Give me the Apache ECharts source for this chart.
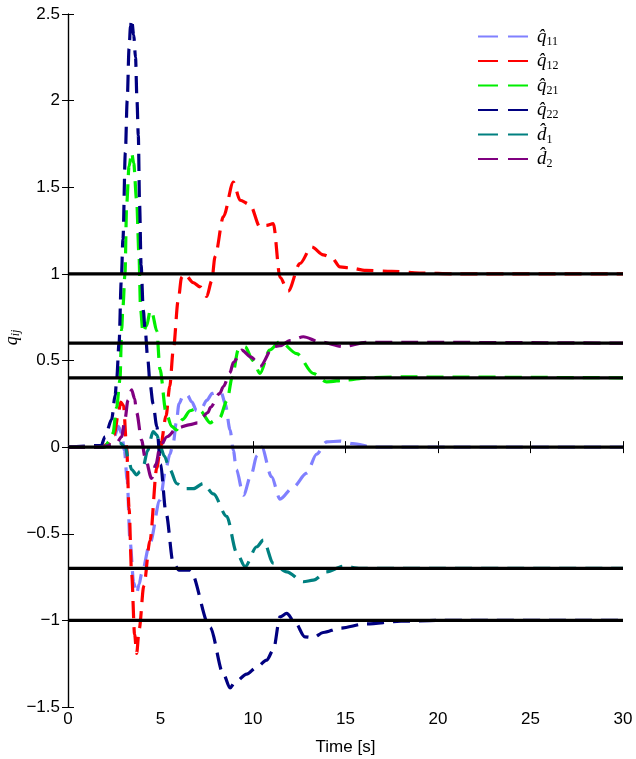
<!DOCTYPE html>
<html><head><meta charset="utf-8">
<script src="https://cdn.jsdelivr.net/npm/echarts@6/dist/echarts.min.js"></script>
<style>html,body{margin:0;padding:0;background:#fff}#c{width:636px;height:759px}</style>
</head><body><div id="c"></div>
<script>
// ---- data ----
const tQ11=[0,1.8,2.2,2.5,2.72,2.9,3.05,3.2,3.35,3.55,3.71,3.85,3.98,4.43,4.97,5.3,5.51,5.7,5.85,6.0,6.23,6.45,6.7,6.95,7.2,7.5,7.8,8.1,8.3,8.5,8.76,8.94,9.1,9.48,9.93,10.2,10.47,11.0,11.46,12.18,12.9,13.44,13.98,14.7,15.4,16.5,30];
const vQ11=[0,0,0.02,0.06,0.12,0.08,-0.02,-0.19,-0.54,-0.78,-0.845,-0.79,-0.73,-0.556,-0.306,-0.12,-0.04,0.03,0.14,0.25,0.30,0.30,0.26,0.21,0.22,0.27,0.31,0.32,0.31,0.25,0.1,-0.02,-0.13,-0.277,-0.15,-0.05,0.0,-0.17,-0.30,-0.23,-0.15,-0.04,0.03,0.035,0.02,0.0,0.0];
const tQ12=[0,1.8,2.2,2.5,2.7,2.85,3.0,3.17,3.3,3.44,3.6,3.71,3.85,4.1,4.43,4.8,5.0,5.3,5.5,5.69,5.96,6.14,6.3,6.77,7.14,7.5,7.77,7.95,8.4,8.94,9.3,9.84,10.38,10.74,11.1,11.46,11.9,12.54,13.17,13.8,14.25,14.7,15.2,16.1,17.5,19,21,30];
const vQ12=[0,0,0.02,0.07,0.18,0.26,0.24,0.0,-0.35,-0.73,-1.08,-1.19,-1.05,-0.8,-0.54,-0.12,0.0,0.18,0.35,0.56,0.85,0.98,1.0,0.95,0.925,0.87,0.96,1.1,1.33,1.53,1.425,1.40,1.27,1.28,1.29,0.98,0.90,1.06,1.156,1.11,1.095,1.04,1.035,1.02,1.015,1.005,1.0,1.0];
const tQ21=[0,1.8,2.0,2.2,2.43,2.63,2.81,2.9,2.97,3.08,3.17,3.3,3.44,3.55,3.71,3.84,3.92,4.05,4.25,4.45,4.55,4.8,4.97,5.3,5.6,5.87,6.2,6.6,6.9,7.14,7.7,7.86,8.2,8.6,8.87,9.2,9.57,10.0,10.38,10.9,11.46,12.36,13.26,13.98,15.06,16.1,18,30];
const vQ21=[0,0,0.0,0.03,0.08,0.23,0.39,0.68,0.81,1.0,1.4,1.62,1.70,1.64,1.425,1.1,0.8,0.66,0.7,0.79,0.77,0.67,0.45,0.2,0.12,0.1,0.16,0.21,0.22,0.21,0.14,0.15,0.17,0.27,0.40,0.56,0.58,0.50,0.425,0.56,0.61,0.54,0.425,0.377,0.387,0.40,0.405,0.4];
const tQ22=[0,1.8,2.0,2.36,2.55,2.63,2.76,2.88,2.97,3.1,3.2,3.3,3.38,3.44,3.55,3.65,3.73,3.8,3.87,3.95,4.07,4.16,4.32,4.43,4.6,4.8,5.0,5.3,5.69,6.0,6.6,7.68,8.4,8.76,9.0,9.66,10.2,10.74,11.1,11.46,11.82,12.27,12.8,13.25,13.8,14.7,16.1,18,20,30];
const vQ22=[0,0.01,0.06,0.16,0.3,0.39,0.6,0.96,1.2,1.7,2.0,2.3,2.43,2.47,2.38,2.25,2.0,1.8,1.4,1.05,0.79,0.69,0.5,0.37,0.25,0.12,-0.1,-0.38,-0.67,-0.71,-0.71,-1.04,-1.31,-1.39,-1.36,-1.31,-1.27,-1.23,-1.17,-0.98,-0.96,-1.01,-1.095,-1.10,-1.07,-1.045,-1.02,-1.005,-1.0,-1.0];
const tD1=[0,1.8,2.2,2.5,2.8,3.1,3.25,3.44,3.71,3.9,4.07,4.3,4.6,4.8,5.0,5.2,5.51,5.87,6.3,6.77,7.31,7.86,8.58,9.12,9.57,10.2,10.56,11.1,11.82,12.72,13.26,13.98,14.88,15.8,30];
const vD1=[0,0,0.01,0.02,0.025,0.0,-0.06,-0.13,-0.16,-0.14,-0.11,-0.02,0.09,0.07,0.0,-0.05,-0.13,-0.21,-0.24,-0.24,-0.21,-0.27,-0.40,-0.61,-0.69,-0.575,-0.537,-0.67,-0.72,-0.777,-0.768,-0.72,-0.687,-0.70,-0.7];
const tD2=[0,1.8,2.6,2.9,3.08,3.24,3.44,3.6,3.71,3.98,4.16,4.52,4.75,4.97,5.35,5.9,6.6,7.0,7.14,7.57,7.7,8.2,8.4,8.76,8.94,9.39,9.9,10.38,11.1,11.46,12.0,12.72,13.6,14.9,16.1,18,30];
const vD2=[0,0,0.02,0.06,0.16,0.27,0.33,0.28,0.2,0.04,-0.056,-0.18,-0.1,0.0,0.06,0.11,0.13,0.14,0.16,0.20,0.23,0.31,0.35,0.43,0.49,0.56,0.52,0.465,0.58,0.585,0.615,0.637,0.608,0.58,0.605,0.605,0.6];
const refLevels=[1,0.6,0.4,0,-0.7,-1];
const seriesNames=['q11','q12','q21','q22','d1','d2'];
const seriesLabels={q11:'{h|q\u0302}{s|11}',q12:'{h|q\u0302}{s|12}',q21:'{h|q\u0302}{s|21}',q22:'{h|q\u0302}{s|22}',d1:'{h|d\u0302}{s|1}',d2:'{h|d\u0302}{s|2}'};
const seriesColors=['#8080ff','#ff0000','#00ee00','#000080','#008080','#800080'];
const xRange=[0,30], yRange=[-1.5,2.5];

// ---- chart ----
const T=[tQ11,tQ12,tQ21,tQ22,tD1,tD2], V=[vQ11,vQ12,vQ21,vQ22,vD1,vD2];
const zip=(t,v)=>t.map((x,i)=>[x,v[i]]);
const minus=v=>String(v).replace('-','\u2212');
const series=[];
seriesNames.forEach((n,i)=>{
  series.push({name:n,type:'line',data:zip(T[i],V[i]),smooth:0.3,smoothMonotone:'x',symbol:'none',
    lineStyle:{color:seriesColors[i],width:3.2,type:[17,9]},itemStyle:{color:seriesColors[i]},z:2});
});
refLevels.forEach(L=>{
  series.push({type:'line',data:[[xRange[0],L],[xRange[1],L]],symbol:'none',silent:true,
    lineStyle:{color:'#000',width:3.2},z:5});
});
const axisFont={fontFamily:'Liberation Sans',fontSize:17,color:'#000'};
const chart=echarts.init(document.getElementById('c'),null,{renderer:'canvas'});
chart.setOption({
  animation:false,
  backgroundColor:'#fff',
  grid:{left:68,right:13,top:14,bottom:52,containLabel:false,outerBoundsMode:'none'},
  legend:{data:seriesNames,orient:'vertical',left:473,top:22,itemWidth:50,itemHeight:14,itemGap:4,
    icon:'path://M0,6 L20,6 L20,8 L0,8 Z M30,6 L50,6 L50,8 L30,8 Z',
    formatter:n=>seriesLabels[n],
    textStyle:{padding:[0,0,0,4],rich:{
      h:{fontFamily:'Liberation Serif',fontStyle:'italic',fontSize:19,color:'#000'},
      s:{fontFamily:'Liberation Serif',fontSize:12,color:'#000',padding:[10,0,0,0]}}}},
  xAxis:[{type:'value',min:xRange[0],max:xRange[1],interval:5,
    name:'Time [s]',nameLocation:'middle',nameGap:32,nameMoveOverlap:false,nameTextStyle:axisFont,
    axisLine:{lineStyle:{color:'#000',width:1.2}},axisTick:{inside:true,length:6,lineStyle:{color:'#000'}},
    axisLabel:Object.assign({margin:4},axisFont),splitLine:{show:false}},
   {type:'value',position:'top',min:xRange[0],max:xRange[1],interval:5,
    axisLine:{lineStyle:{color:'#000',width:1.2}},axisTick:{inside:true,length:6,lineStyle:{color:'#000'}},
    axisLabel:{show:false},splitLine:{show:false}}],
  yAxis:[{type:'value',min:yRange[0],max:yRange[1],interval:0.5,
    name:'{q|q}{s|ij}',nameLocation:'middle',nameGap:46,nameRotate:90,nameMoveOverlap:false,
    nameTextStyle:{padding:[0,0,0,46],rich:{q:{fontFamily:'Liberation Serif',fontStyle:'italic',fontSize:18,color:'#000'},
      s:{fontFamily:'Liberation Serif',fontStyle:'italic',fontSize:12,color:'#000',padding:[8,0,0,0]}}},
    axisLine:{lineStyle:{color:'#000',width:1.2}},axisTick:{inside:true,length:6,lineStyle:{color:'#000'}},
    axisLabel:Object.assign({margin:8,formatter:minus},axisFont),splitLine:{show:false}},
   {type:'value',position:'right',min:yRange[0],max:yRange[1],interval:0.5,
    axisLine:{show:true,lineStyle:{color:'#000',width:1.2}},axisTick:{show:true,inside:true,length:6,lineStyle:{color:'#000'}},
    axisLabel:{show:false},splitLine:{show:false}}],
  series:series
});
</script></body></html>
